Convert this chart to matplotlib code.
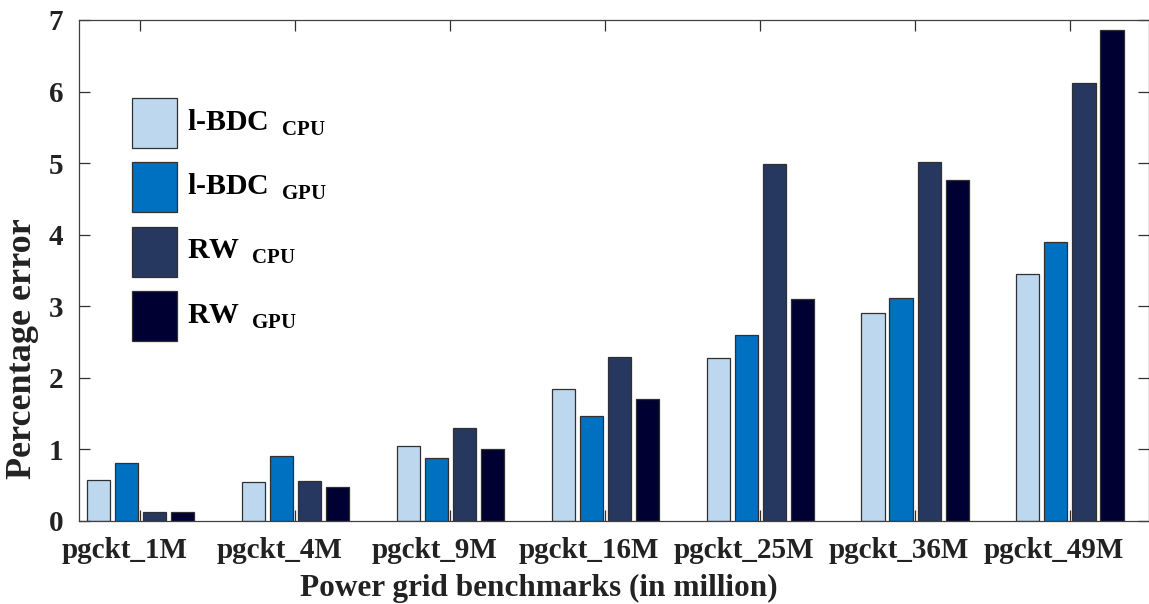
import numpy as np
import matplotlib.pyplot as plt
import matplotlib.transforms as mtransforms
from matplotlib.ticker import MultipleLocator

plt.rcParams['font.family'] = 'Liberation Serif'
plt.rcParams['font.weight'] = 'bold'
plt.rcParams['mathtext.fontset'] = 'custom'
plt.rcParams['mathtext.bf'] = 'Liberation Serif:bold'
plt.rcParams['mathtext.rm'] = 'Liberation Serif:bold'

benchmarks = ['pgckt_1M', 'pgckt_4M', 'pgckt_9M', 'pgckt_16M',
              'pgckt_25M', 'pgckt_36M', 'pgckt_49M']
lbdc_cpu = [0.57, 0.54, 1.04, 1.84, 2.28, 2.90, 3.45]
lbdc_gpu = [0.80, 0.90, 0.87, 1.46, 2.60, 3.12, 3.90]
rw_cpu = [0.12, 0.56, 1.29, 2.29, 4.99, 5.02, 6.12]
rw_gpu = [0.12, 0.47, 1.00, 1.70, 3.10, 4.76, 6.86]

series = [lbdc_cpu, lbdc_gpu, rw_cpu, rw_gpu]
labels = [r'l-BDC $\,_{\mathbf{CPU}}$', r'l-BDC $\,_{\mathbf{GPU}}$',
          r'RW $\,_{\mathbf{CPU}}$', r'RW $\,_{\mathbf{GPU}}$']
colors = ['#BDD7EE', '#0070C0', '#26385F', '#000033']

fig = plt.figure(figsize=(11.49, 6.04), dpi=100)
ax = fig.add_axes([79 / 1149, 1 - 520.7 / 604, 1069.5 / 1149, 500.7 / 604])

x = np.arange(1, len(benchmarks) + 1)
pitch = 0.181
width = 0.149
for i, (vals, lab, col) in enumerate(zip(series, labels, colors)):
    ax.bar(x + (i - 1.5) * pitch, vals, width, color=col, label=lab,
           edgecolor='#303030', linewidth=0.9)

ax.set_xlim(0.603, 7.507)
ax.set_ylim(0, 7)
ax.set_xticks(x)
ax.set_xticklabels(benchmarks)
ax.yaxis.set_major_locator(MultipleLocator(1))
ax.tick_params(direction='in', top=True, right=True, length=8, width=0.9,
               labelsize=21, pad=11.5, color='#303030', labelcolor='#222222')
for s in ax.spines.values():
    s.set_color('#404040')
    s.set_linewidth(0.9)

# tick labels sit a little left of the group centres in the original
shift = mtransforms.ScaledTranslation(-16 / 100, 0, fig.dpi_scale_trans)
for lbl in ax.get_xticklabels():
    lbl.set_transform(lbl.get_transform() + shift)

ax.set_xlabel('Power grid benchmarks (in million)', fontsize=22.5,
              fontweight='bold', color='#222222')
ax.xaxis.set_label_coords(0.43, -0.106)
ax.set_ylabel('Percentage error', fontsize=26, fontweight='bold',
              color='#222222')
ax.yaxis.set_label_coords(-0.0374, 0.343)

leg = ax.legend(loc='upper left', bbox_to_anchor=(0.0496, 0.844),
                frameon=False, fontsize=21.5, handlelength=1.507,
                handleheight=2.2, labelspacing=0.48, handletextpad=0.33,
                borderpad=0, borderaxespad=0)
for t in leg.get_texts():
    t.set_y(2)

plt.savefig('out.png', dpi=100)
plt.close()
